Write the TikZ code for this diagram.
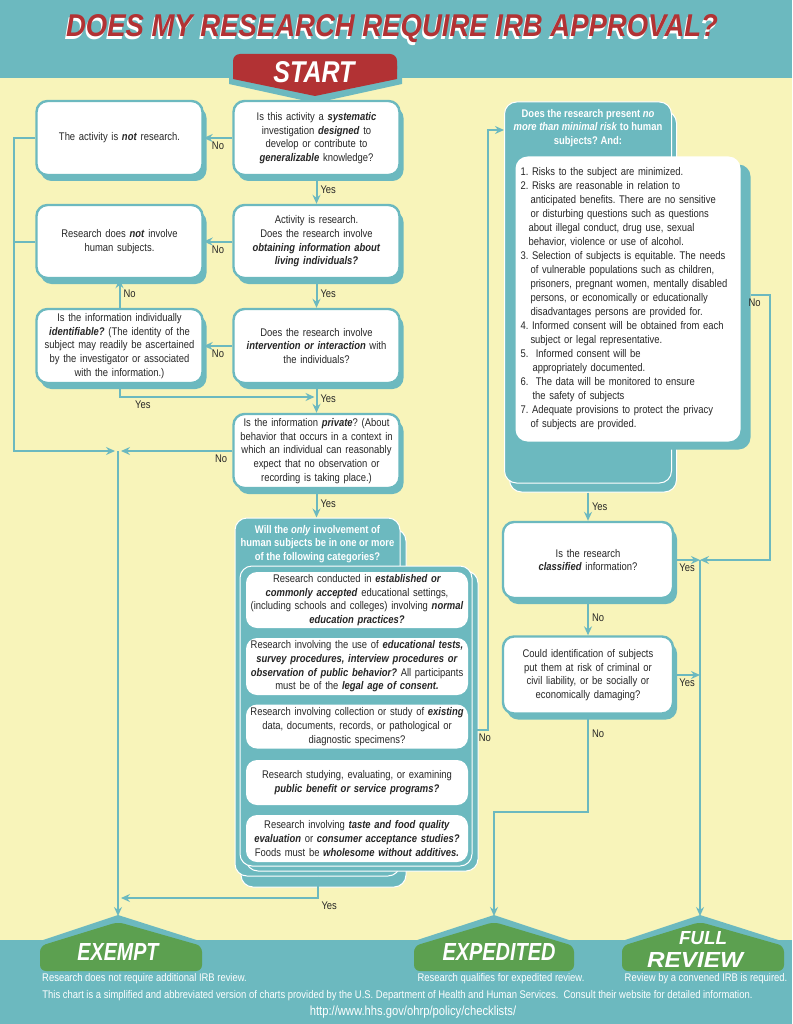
\documentclass[tikz,border=0pt]{standalone}
\usepackage{graphicx}
\usepackage{fontspec}
\setmainfont{Liberation Sans}[FakeStretch=0.85]
\usetikzlibrary{arrows.meta,shadows}
\frenchspacing

\definecolor{irbteal}{RGB}{108,185,191}
\definecolor{irbyellow}{RGB}{248,244,186}
\definecolor{irbred}{RGB}{178,50,52}
\definecolor{irbgreen}{RGB}{92,160,80}
\definecolor{irbtext}{RGB}{38,38,38}

\newcommand{\bodyfont}{\fontsize{11.1}{13.7}\selectfont}
\newcommand{\bfit}[1]{\textbf{\textit{#1}}}
\newcommand{\signtext}[3]{\resizebox{#1}{#2}{\bfseries\itshape #3}}

\tikzset{
  qbox/.style={draw=irbteal, line width=2.4pt, fill=white, rounded corners=11pt,
    minimum width=166pt, minimum height=74pt, text width=160pt, inner sep=0pt,
    align=center, text=irbtext, font=\bodyfont,
    drop shadow={fill=irbteal, opacity=1, shadow xshift=4pt, shadow yshift=-6pt}},
  tealcard/.style 2 args={fill=irbteal, draw=white, line width=1pt, rounded corners=12pt,
    drop shadow={fill=irbteal, draw=white, line width=1pt, opacity=1,
      shadow xshift=#1, shadow yshift=#2}},
  catbox/.style={fill=white, rounded corners=11pt, minimum width=220pt, text width=222pt,
    inner sep=0pt, align=center, text=irbtext, font=\bodyfont},
  listbox/.style={fill=white, rounded corners=12pt, minimum width=225pt, minimum height=285pt,
    text width=215pt, inner sep=5pt, align=left, text=irbtext,
    font=\fontsize{11.1}{14}\selectfont,
    drop shadow={fill=irbteal, opacity=1, shadow xshift=10pt, shadow yshift=-8pt}},
  headtext/.style={text=white, font=\bodyfont\bfseries, align=center, inner sep=0pt},
  flow/.style={draw=irbteal, line width=2pt, -{Stealth[length=9pt,width=8pt,inset=3pt]}},
  line/.style={draw=irbteal, line width=2pt},
  lbl/.style={font=\bodyfont, text=irbtext, inner sep=3pt},
  signlbl/.style={text=white, anchor=base, inner sep=0pt},
  caption/.style={font=\bodyfont, text=white, inner sep=0pt}
}

\begin{document}
\begin{tikzpicture}[x=1pt, y=-1pt]
  \useasboundingbox (0,0) rectangle (792,1024);

  % Backdrop
  \fill[irbyellow] (0,0) rectangle (792,1024);
  \fill[irbteal] (0,0) rectangle (792,78);
  \fill[irbteal] (0,940) rectangle (792,1024);

  % Title
  \node[anchor=base, text=white, inner sep=0pt] (titleshadow) at (390.5,39.5)
    {\signtext{652pt}{22pt}{DOES MY RESEARCH REQUIRE IRB APPROVAL?}};
  \node[anchor=base, text=irbred, inner sep=0pt] (title) at (392,37)
    {\signtext{652pt}{22pt}{DOES MY RESEARCH REQUIRE IRB APPROVAL?}};

  % Start badge
  \fill[irbteal, rounded corners=7pt] (229,58) rectangle (402,80);
  \fill[irbteal] (229,70) -- (229,84) -- (315.5,103) -- (402,84) -- (402,70) -- cycle;
  \fill[irbred, rounded corners=7pt] (233,54) rectangle (397,76);
  \fill[irbred] (233,66) -- (233,79) -- (315,96) -- (397,79) -- (397,66) -- cycle;
  \node[signlbl] (start) at (314,83) {\signtext{81pt}{21pt}{START}};

  % Left and middle questions
  \node[qbox] (q1) at (316.5,138) {Is this activity a \bfit{systematic}\\ investigation \bfit{designed} to\\ develop or contribute to\\ \bfit{generalizable} knowledge?};
  \node[qbox] (notres) at (119.5,138) {The activity is \bfit{not} research.};
  \node[qbox, minimum height=73pt] (q2) at (316.5,241.5) {Activity is research.\\ Does the research involve\\ \bfit{obtaining information about}\\ \bfit{living individuals?}};
  \node[qbox, minimum height=73pt] (nohuman) at (119.5,241.5) {Research does \bfit{not} involve\\ human subjects.};
  \node[qbox] (q3) at (316.5,346) {Does the research involve\\ \bfit{intervention or interaction} with\\ the individuals?};
  \node[qbox] (ident) at (119.5,346) {Is the information individually\\ \bfit{identifiable?} (The identity of the\\ subject may readily be ascertained\\ by the investigator or associated\\ with the information.)};
  \node[qbox] (q4) at (316.5,451) {Is the information \bfit{private}? (About\\ behavior that occurs in a context in\\ which an individual can reasonably\\ expect that no observation or\\ recording is taking place.)};

  % Exempt categories
  \node[tealcard={6pt}{-11pt}, minimum width=165pt, minimum height=358pt] (catcard) at (317.5,697) {};
  \node[headtext] (cathead) at (317.5,544) {Will the \textit{only} involvement of\\ human subjects be in one or more\\ of the following categories?};
  \node[tealcard={6pt}{-5pt}, minimum width=232pt, minimum height=300pt] (catpanel) at (356,716) {};
  \node[catbox, minimum height=56pt] (s1) at (357,600) {Research conducted in \bfit{established or}\\ \bfit{commonly accepted} educational settings,\\ (including schools and colleges) involving \bfit{normal}\\ \bfit{education practices?}};
  \node[catbox, minimum height=57pt] (s2) at (357,666.5) {Research involving the use of \bfit{educational tests,}\\ \bfit{survey procedures, interview procedures or}\\ \bfit{observation of public behavior?} All participants\\ must be of the \bfit{legal age of consent.}};
  \node[catbox, minimum height=44pt] (s3) at (357,726.5) {Research involving collection or study of \bfit{existing}\\ data, documents, records, or pathological or\\ diagnostic specimens?};
  \node[catbox, minimum height=45pt] (s4) at (357,782.5) {Research studying, evaluating, or examining\\ \bfit{public benefit or service programs?}};
  \node[catbox, minimum height=47pt] (s5) at (357,838.5) {Research involving \bfit{taste and food quality}\\ \bfit{evaluation} or \bfit{consumer acceptance studies?}\\ Foods must be \bfit{wholesome without additives.}};

  % Minimal risk
  \node[tealcard={5pt}{-9pt}, minimum width=167pt, minimum height=381pt] (riskcard) at (588,292.5) {};
  \node[headtext] (riskhead) at (588,128) {Does the research present \textit{no}\\ \textit{more than minimal risk} to human\\ subjects? And:};
  \node[listbox] (risklist) at (628,299) {%
    1. Risks to the subject are minimized.\\
    2. Risks are reasonable in relation to\\
    \hspace*{10pt}anticipated benefits. There are no sensitive\\
    \hspace*{10pt}or disturbing questions such as questions\\
    \hspace*{8pt}about illegal conduct, drug use, sexual\\
    \hspace*{8pt}behavior, violence or use of alcohol.\\
    3. Selection of subjects is equitable. The needs\\
    \hspace*{10pt}of vulnerable populations such as children,\\
    \hspace*{10pt}prisoners, pregnant women, mentally disabled\\
    \hspace*{10pt}persons, or economically or educationally\\
    \hspace*{10pt}disadvantages persons are provided for.\\
    4. Informed consent will be obtained from each\\
    \hspace*{10pt}subject or legal representative.\\
    5.\ \ Informed consent will be\\
    \hspace*{12pt}appropriately documented.\\
    6.\ \ The data will be monitored to ensure\\
    \hspace*{12pt}the safety of subjects\\
    7. Adequate provisions to protect the privacy\\
    \hspace*{10pt}of subjects are provided.};
  \node[qbox, minimum width=170pt, minimum height=76pt] (cls) at (588,560) {Is the research\\ \bfit{classified} information?};
  \node[qbox, minimum width=170pt, minimum height=77pt] (harm) at (588,675) {Could identification of subjects\\ put them at risk of criminal or\\ civil liability, or be socially or\\ economically damaging?};

  % Junctions and outcomes
  \coordinate (lj) at (118,451);
  \coordinate (q3q4) at (316.5,397);
  \coordinate (exj) at (118,898);
  \coordinate (fullj) at (700,560);
  \coordinate (exempt) at (118,916);
  \coordinate (expedited) at (494,916);
  \coordinate (fullrev) at (700,916);

  % Connectors
  \draw[flow] (q1.west) -- node[lbl, below] (no1) {No} (notres.east);
  \draw[flow] (q1.south) -- node[lbl, right] (yes1) {Yes} (q2.north);
  \draw[flow] (q2.west) -- node[lbl, below] (no2) {No} (nohuman.east);
  \draw[flow] (q2.south) -- node[lbl, right] (yes2) {Yes} (q3.north);
  \draw[flow] (q3.west) -- node[lbl, below] (no3) {No} (ident.east);
  \draw[flow] (ident.north) -- node[lbl, right] (no4) {No} (nohuman.south);
  \draw[flow] (ident.south) |- node[lbl, pos=0.56, below] (yes3) {Yes} ([xshift=-2pt]q3q4);
  \draw[flow] (q3.south) -- node[lbl, right] (yes4) {Yes} (q4.north);
  \draw[flow] (q4.west) -- node[lbl, pos=0.1, below] (no5) {No} ([xshift=3pt]lj);
  \draw[flow] (notres.west) -- ++(-21,0) |- ([xshift=-3pt]lj);
  \draw[line] (nohuman.west) -- ++(-21,0);
  \draw[flow] (lj) -- (exempt);
  \draw[flow] (q4.south) -- node[lbl, right] (yes5) {Yes} (q4.south |- catcard.north);
  \draw[flow] (catcard.south) |- node[lbl, pos=0.5, below right] (yes6) {Yes} ([xshift=3pt]exj);
  \draw[flow] ([yshift=-14pt]catpanel.east) -| node[lbl, pos=0.4, below] (no6) {No} (488,130) -- (riskcard.west |- 0,130);

  \draw[flow] ([yshift=-9pt]riskcard.south) -- node[lbl, right] (yes7) {Yes} (cls.north);
  \draw[flow] ([xshift=10pt,yshift=4pt]risklist.east) -| node[lbl, pos=0.1, below] (no7) {No} (770,560) -- (fullj);
  \draw[flow] (cls.east) -- node[lbl, below] (yes8) {Yes} (fullj);
  \draw[flow] (cls.south) -- node[lbl, right] (no8) {No} (harm.north);
  \draw[flow] (harm.east) -- node[lbl, below] (yes9) {Yes} (harm.east -| fullj);
  \draw[flow] (fullj) -- (fullrev);
  \draw[flow] (harm.south) -- node[lbl, pos=0.2, right] (no9) {No} (harm.south |- 0,812) -| (expedited);

  % Outcome signs
  \foreach \xl/\xp/\xr in {34/118/206, 408/494/578, 616/700/788} {
    \fill[irbteal] (\xl,943) -- (\xp,915) -- (\xr,943) -- cycle;
    \fill[irbgreen, rounded corners=6pt] (\xl+6,946) -- (\xp,922) -- (\xr-4,946) -- (\xr-4,971) -- (\xl+6,971) -- cycle;
  }
  \node[signlbl] (exempttxt) at (118,960) {\signtext{81pt}{17pt}{EXEMPT}};
  \node[signlbl] (expeditedtxt) at (499,960) {\signtext{113pt}{17pt}{EXPEDITED}};
  \node[signlbl] (fulltxt) at (703,944) {\signtext{48pt}{13pt}{FULL}};
  \node[signlbl] (reviewtxt) at (695,967) {\signtext{96pt}{15pt}{REVIEW}};

  % Footer
  \node[caption] (exemptcap) at (144.5,979) {Research does not require additional IRB review.};
  \node[caption] (expeditedcap) at (501,979) {Research qualifies for expedited review.};
  \node[caption] (fullcap) at (706,979) {Review by a convened IRB is required.};
  \node[caption] (sourcenote) at (397.5,996) {This chart is a simplified and abbreviated version of charts provided by the U.S. Department of Health and Human Services.\ \ Consult their website for detailed information.};
  \node[caption, font=\fontsize{13.2}{14}\selectfont] (sourceurl) at (413,1012) {http://www.hhs.gov/ohrp/policy/checklists/};
\end{tikzpicture}
\end{document}
